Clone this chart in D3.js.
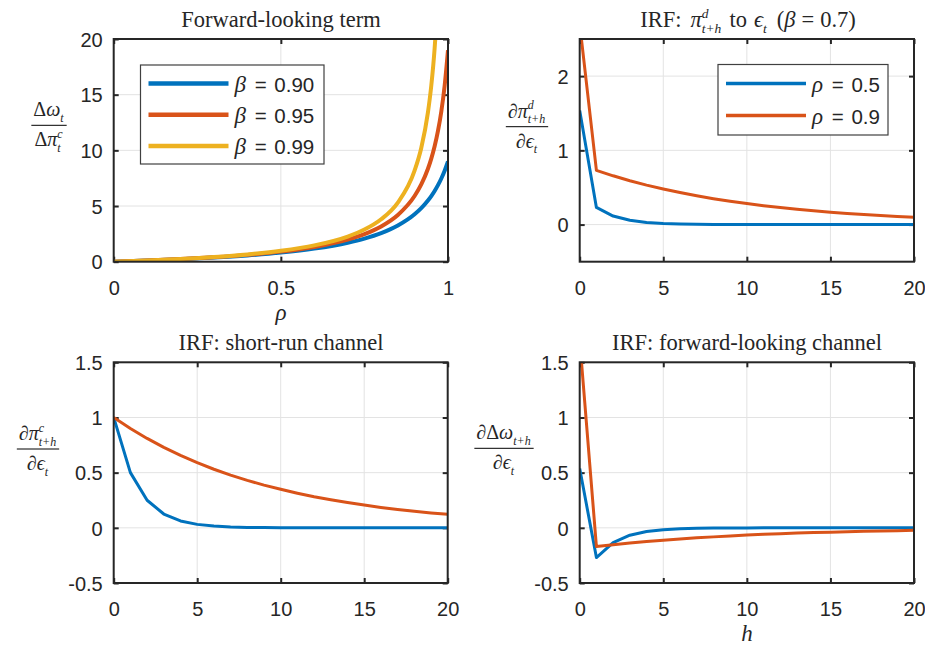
<html>
<head>
<meta charset="utf-8">
<script src="https://cdn.jsdelivr.net/npm/d3@7"></script>
<style>
  body { margin: 0; background: white; }
  text { fill: #262626; }
</style>
</head>
<body>
<div id="chart"></div>
<script>
// ---- data ----
const rho = [0, 0.1, 0.2, 0.3, 0.4, 0.5, 0.6, 0.7, 0.75, 0.8, 0.85, 0.9, 0.92, 0.94, 0.95, 0.96, 0.97, 0.98, 0.99, 1];
const fwd090 = [0, 0.099, 0.220, 0.370, 0.563, 0.818, 1.174, 1.703, 2.077, 2.571, 3.255, 4.263, 4.814, 5.494, 5.897, 6.353, 6.874, 7.475, 8.174, 9.0];
const fwd095 = [0, 0.105, 0.235, 0.399, 0.613, 0.905, 1.326, 1.985, 2.478, 3.167, 4.195, 5.897, 6.937, 8.346, 9.256, 10.36, 11.74, 13.49, 15.81, 19.0];
const fwd099 = [0, 0.110, 0.247, 0.422, 0.656, 0.980, 1.463, 2.257, 2.883, 3.808, 5.309, 8.174, 10.21, 13.41, 15.81, 19.16, 24.19, 32.6, 49.3, 99.0];

const horizon = [0, 1, 2, 3, 4, 5, 6, 7, 8, 9, 10, 11, 12, 13, 14, 15, 16, 17, 18, 19, 20];
const piD05 = [1.538, 0.231, 0.115, 0.058, 0.029, 0.014, 0.007, 0.004, 0.002, 0.001, 0.0005, 0.0002, 0.0001, 0, 0, 0, 0, 0, 0, 0, 0];
const piD09 = [2.703, 0.730, 0.657, 0.591, 0.532, 0.479, 0.431, 0.388, 0.349, 0.314, 0.283, 0.254, 0.229, 0.206, 0.185, 0.167, 0.150, 0.135, 0.122, 0.109, 0.098];
const piC05 = [1, 0.5, 0.25, 0.125, 0.0625, 0.0313, 0.0156, 0.0078, 0.0039, 0.002, 0.001, 0.0005, 0.0002, 0.0001, 0, 0, 0, 0, 0, 0, 0];
const piC09 = [1, 0.9, 0.81, 0.729, 0.656, 0.590, 0.531, 0.478, 0.430, 0.387, 0.349, 0.314, 0.282, 0.254, 0.229, 0.206, 0.185, 0.167, 0.150, 0.135, 0.122];
const dw05 = [0.538, -0.269, -0.135, -0.067, -0.034, -0.017, -0.008, -0.004, -0.002, -0.001, -0.0005, -0.0003, -0.0001, 0, 0, 0, 0, 0, 0, 0, 0];
const dw09 = [1.703, -0.170, -0.153, -0.138, -0.124, -0.112, -0.101, -0.091, -0.082, -0.073, -0.066, -0.059, -0.053, -0.048, -0.043, -0.039, -0.035, -0.032, -0.028, -0.026, -0.023];

const rhoTicks = [0, 0.5, 1];
const fwdTicks = [0, 5, 10, 15, 20];
const hTicks = [0, 5, 10, 15, 20];
const irfTicks = [0, 1, 2];
const chanTicks = [-0.5, 0, 0.5, 1, 1.5];

const betaLabels = ["0.90", "0.95", "0.99"];
const rhoLabels = ["0.5", "0.9"];

const blue = "#0072BD", orange = "#D95319", yellow = "#EDB120";
const sans = "'Liberation Sans', Arial, sans-serif";
const serif = "'Liberation Serif', 'DejaVu Serif', serif";
const NB = "\u00A0";

const svg = d3.select("#chart").append("svg")
    .attr("width", 925).attr("height", 645)
    .style("background", "white");
const defs = svg.append("defs");

// one <text> with tspans laid out like a small latex row, centred on cx
function mathText(parent, cx, y, tokens, size) {
    const t = parent.append("text").attr("y", y)
        .style("font-family", serif).style("font-size", size + "px").attr("fill", "#000");
    let xpos = 0;
    const spans = [];
    tokens.forEach(tk => {
        if (tk.sp !== undefined) {
            xpos += tk.sp;
        } else if (tk.sup !== undefined || tk.sub !== undefined) {
            let w = 0;
            [["sup", -0.42], ["sub", 0.28]].forEach(([k, off]) => {
                if (!tk[k]) return;
                const s = t.append("tspan").attr("y", y + off * size)
                    .style("font-style", "italic").style("font-size", (0.6 * size) + "px").text(tk[k]);
                spans.push([s, xpos]);
                w = Math.max(w, s.node().getComputedTextLength());
            });
            xpos += w + 1;
        } else {
            const s = t.append("tspan").attr("y", y)
                .style("font-style", tk.i ? "italic" : "normal").text(tk.t);
            spans.push([s, xpos]);
            xpos += s.node().getComputedTextLength();
        }
    });
    spans.forEach(([s, x0]) => s.attr("x", cx - xpos / 2 + x0));
    return xpos;
}

function fraction(cx, bar, num, den, size) {
    const g = svg.append("g");
    const w1 = mathText(g, cx, bar - 9, num, size);
    const w2 = mathText(g, cx, bar + 21, den, size);
    const w = Math.max(w1, w2) + 4;
    g.append("line").attr("x1", cx - w / 2).attr("x2", cx + w / 2)
        .attr("y1", bar).attr("y2", bar).attr("stroke", "#000").attr("stroke-width", 1);
}

function drawPanel(cfg) {
    const x = d3.scaleLinear().domain(cfg.xDomain).range([cfg.L, cfg.R]);
    const y = d3.scaleLinear().domain(cfg.yDomain).range([cfg.B, cfg.T]);
    const g = svg.append("g");

    defs.append("clipPath").attr("id", "clip" + cfg.id)
        .append("rect").attr("x", cfg.L).attr("y", cfg.T)
        .attr("width", cfg.R - cfg.L).attr("height", cfg.B - cfg.T);

    // grid
    g.append("g").selectAll("line").data(cfg.xTicks).join("line")
        .attr("x1", d => x(d)).attr("x2", d => x(d)).attr("y1", cfg.T).attr("y2", cfg.B)
        .attr("stroke", "#e3e3e3").attr("stroke-width", 1);
    g.append("g").selectAll("line").data(cfg.yTicks).join("line")
        .attr("y1", d => y(d)).attr("y2", d => y(d)).attr("x1", cfg.L).attr("x2", cfg.R)
        .attr("stroke", "#e3e3e3").attr("stroke-width", 1);

    // tick marks and labels
    const fmt = d => String(d);
    const bottom = g.append("g").attr("transform", `translate(0,${cfg.B})`)
        .call(d3.axisBottom(x).tickValues(cfg.xTicks).tickSizeInner(-5).tickSizeOuter(0).tickFormat(fmt));
    bottom.selectAll("text").attr("y", 33).attr("dy", null);
    g.append("g").attr("transform", `translate(0,${cfg.T})`)
        .call(d3.axisTop(x).tickValues(cfg.xTicks).tickSizeInner(-5).tickSizeOuter(0).tickFormat(""));
    const left = g.append("g").attr("transform", `translate(${cfg.L},0)`)
        .call(d3.axisLeft(y).tickValues(cfg.yTicks).tickSizeInner(-5).tickSizeOuter(0).tickFormat(fmt));
    left.selectAll("text").attr("x", -11).attr("dy", "0.36em");
    g.append("g").attr("transform", `translate(${cfg.R},0)`)
        .call(d3.axisRight(y).tickValues(cfg.yTicks).tickSizeInner(-5).tickSizeOuter(0).tickFormat(""));

    g.selectAll(".domain").remove();
    g.selectAll(".tick line").attr("stroke", "#262626").attr("stroke-width", 2);
    g.selectAll(".tick text").style("font-family", sans).style("font-size", "20px").attr("fill", "#262626");

    // data lines
    cfg.series.forEach(s => {
        g.append("path")
            .datum(s.y.map((v, i) => [s.x[i], v]))
            .attr("clip-path", `url(#clip${cfg.id})`)
            .attr("fill", "none")
            .attr("stroke", s.color)
            .attr("stroke-width", s.width)
            .attr("stroke-linejoin", "round")
            .attr("d", d3.line().x(d => x(d[0])).y(d => y(d[1])).curve(cfg.curve || d3.curveLinear));
    });

    // box
    g.append("rect").attr("x", cfg.L).attr("y", cfg.T)
        .attr("width", cfg.R - cfg.L).attr("height", cfg.B - cfg.T)
        .attr("fill", "none").attr("stroke", "#262626").attr("stroke-width", 2);

    // legend
    if (cfg.legend) {
        const lg = cfg.legend;
        g.append("rect").attr("x", lg.x).attr("y", lg.y).attr("width", lg.w).attr("height", lg.h)
            .attr("fill", "white").attr("stroke", "#404040").attr("stroke-width", 1.2);
        lg.labels.forEach((lab, i) => {
            const yy = lg.y + lg.first + i * lg.step;
            g.append("line").attr("x1", lg.x + 8).attr("x2", lg.x + 88)
                .attr("y1", yy).attr("y2", yy)
                .attr("stroke", cfg.series[i].color).attr("stroke-width", lg.lw);
            const t = g.append("text").attr("x", lg.x + 94).attr("y", yy + 8)
                .style("font-size", "20.5px").attr("fill", "#000");
            t.append("tspan").style("font-family", serif).style("font-style", "italic").style("font-size", "23px").text(lg.sym);
            t.append("tspan").style("font-family", sans).attr("dx", 3).text(NB + "=" + NB);
            t.append("tspan").style("font-family", sans).attr("dx", 2).text(lab);
        });
    }
    return { x, y };
}

// panel 1: forward-looking term
drawPanel({
    id: 1, L: 113.7, R: 448, T: 39, B: 261.7,
    xDomain: [0, 1], yDomain: [0, 20], xTicks: rhoTicks, yTicks: fwdTicks,
    curve: d3.curveMonotoneX,
    series: [
        { x: rho, y: fwd090, color: blue, width: 4 },
        { x: rho, y: fwd095, color: orange, width: 4 },
        { x: rho, y: fwd099, color: yellow, width: 4 }
    ],
    legend: { x: 140.5, y: 65, w: 183.5, h: 99, first: 18.5, step: 31.3, lw: 4.5, sym: "β", labels: betaLabels }
});

// panel 2: IRF of pi^d
drawPanel({
    id: 2, L: 579.7, R: 914, T: 39, B: 261.7,
    xDomain: [0, 20], yDomain: [-0.5, 2.5], xTicks: hTicks, yTicks: irfTicks,
    series: [
        { x: horizon, y: piD05, color: blue, width: 3 },
        { x: horizon, y: piD09, color: orange, width: 3 }
    ],
    legend: { x: 718, y: 64.5, w: 170, h: 70.5, first: 19, step: 32, lw: 3.5, sym: "ρ", labels: rhoLabels }
});

// panel 3: short-run channel
drawPanel({
    id: 3, L: 113.7, R: 447.7, T: 362.3, B: 583,
    xDomain: [0, 20], yDomain: [-0.5, 1.5], xTicks: hTicks, yTicks: chanTicks,
    series: [
        { x: horizon, y: piC05, color: blue, width: 3 },
        { x: horizon, y: piC09, color: orange, width: 3 }
    ]
});

// panel 4: forward-looking channel
drawPanel({
    id: 4, L: 579.7, R: 914, T: 362.3, B: 583,
    xDomain: [0, 20], yDomain: [-0.5, 1.5], xTicks: hTicks, yTicks: chanTicks,
    series: [
        { x: horizon, y: dw05, color: blue, width: 3 },
        { x: horizon, y: dw09, color: orange, width: 3 }
    ]
});

// titles
const TS = 22.5;
mathText(svg, 281, 27, [{ t: "Forward-looking term" }], TS);
mathText(svg, 748, 27, [
    { t: "IRF:" }, { sp: 9 }, { t: "π", i: 1 }, { sup: "d", sub: "t+h" }, { sp: 7 },
    { t: "to" }, { sp: 7 }, { t: "ϵ", i: 1 }, { sub: "t" }, { sp: 9 },
    { t: "(" }, { t: "β", i: 1 }, { sp: 6 }, { t: "=" }, { sp: 6 }, { t: "0.7)" }
], TS);
mathText(svg, 281, 350, [{ t: "IRF:" + NB + "short-run channel" }], TS);
mathText(svg, 747, 350, [{ t: "IRF:" + NB + "forward-looking channel" }], TS);

// x labels
mathText(svg, 281, 320, [{ t: "ρ", i: 1 }], 23);
mathText(svg, 747, 641, [{ t: "h", i: 1 }], 23);

// y labels
fraction(49, 125.3, [{ t: "Δ" }, { t: "ω", i: 1 }, { sub: "t" }], [{ t: "Δ" }, { t: "π", i: 1 }, { sup: "c", sub: "t" }], 20);
fraction(527, 126.7, [{ t: "∂" }, { t: "π", i: 1 }, { sup: "d", sub: "t+h" }], [{ t: "∂" }, { t: "ϵ", i: 1 }, { sub: "t" }], 20);
fraction(38, 449, [{ t: "∂" }, { t: "π", i: 1 }, { sup: "c", sub: "t+h" }], [{ t: "∂" }, { t: "ϵ", i: 1 }, { sub: "t" }], 20);
fraction(504, 448.3, [{ t: "∂Δ" }, { t: "ω", i: 1 }, { sub: "t+h" }], [{ t: "∂" }, { t: "ϵ", i: 1 }, { sub: "t" }], 20);
</script>
</body>
</html>
